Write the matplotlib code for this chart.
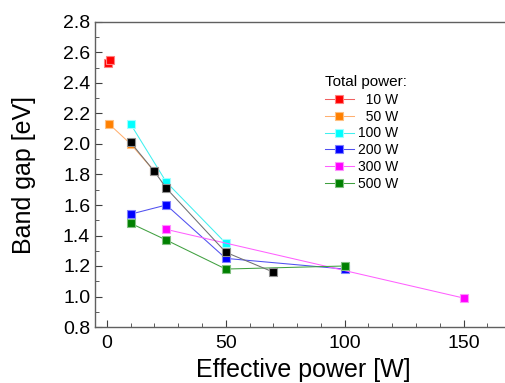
import matplotlib
matplotlib.use("Agg")
from matplotlib import pyplot as plt
from matplotlib.ticker import MultipleLocator

plt.rcParams['font.family'] = ['Liberation Sans', 'DejaVu Sans']

# effective power [W] / band gap [eV] per total power
x_10w = [0.3, 1.2]
y_10w = [2.53, 2.55]

x_50w = [1, 10, 20]
y_50w = [2.13, 2.00, 1.82]

x_100w = [10, 25, 50]
y_100w = [2.13, 1.75, 1.35]

x_200w = [10, 25, 50, 100]
y_200w = [1.54, 1.60, 1.25, 1.18]

x_300w = [25, 150]
y_300w = [1.44, 0.99]

x_500w = [10, 25, 50, 100]
y_500w = [1.48, 1.37, 1.18, 1.20]

x_other = [10, 20, 25, 50, 70]
y_other = [2.01, 1.82, 1.71, 1.29, 1.16]

labels = ["  10 W", "  50 W", "100 W", "200 W", "300 W", "500 W"]

fig = plt.figure(figsize=(5.06, 3.83), dpi=100)
ax = fig.add_axes([95 / 506, 1 - 327 / 383, 1 - 95 / 506 + 0.01, 305 / 383])


def series(x, y, face, edge, line, label=None, z=3):
    ax.plot(x, y, color=line, lw=0.75, marker="s", markersize=6,
            markerfacecolor=face, markeredgecolor=edge, markeredgewidth=0.8,
            label=label, zorder=z)


series(x_50w, y_50w, "#ff8000", "#ffc080", "#ffb070", labels[1])
series(x_other, y_other, "black", "#909090", "#707070", None, z=4)
series(x_10w, y_10w, "red", "#ff8080", "#f06060", labels[0])
series(x_100w, y_100w, "cyan", "#a0ffff", "#40f0f0", labels[2])
series(x_200w, y_200w, "blue", "#8080ff", "#5050f0", labels[3])
series(x_300w, y_300w, "magenta", "#ff90ff", "#ff60ff", labels[4])
series(x_500w, y_500w, "green", "#80c080", "#40a040", labels[5])

handles, labs = ax.get_legend_handles_labels()
order = [labs.index(l) for l in labels]
leg = ax.legend([handles[i] for i in order], [labs[i] for i in order],
                title="Total power:", frameon=False, fontsize=10,
                title_fontsize=11, numpoints=1, handlelength=2.1,
                handletextpad=0.3, labelspacing=0.2, borderpad=0,
                loc="upper left", bbox_to_anchor=(0.535, 0.85))
leg._legend_box.align = "left"
leg._legend_box.sep = 3

ax.set_xlim(-5, 170)
ax.set_ylim(0.8, 2.8)
ax.xaxis.set_major_locator(MultipleLocator(50))
ax.xaxis.set_minor_locator(MultipleLocator(10))
ax.yaxis.set_major_locator(MultipleLocator(0.2))
ax.yaxis.set_minor_locator(MultipleLocator(0.1))
ax.yaxis.set_major_formatter(plt.FormatStrFormatter("%.1f"))
ax.tick_params(which="both", direction="in", labelsize=14, top=False, right=False,
               color="#404040")
ax.tick_params(which="major", length=5)
ax.tick_params(which="minor", length=3)
ax.tick_params(axis="x", pad=6)
for s in ax.spines.values():
    s.set_color("#606060")
    s.set_linewidth(1.0)

ax.set_xlabel("Effective power [W]", fontsize=18, labelpad=4)
ax.set_ylabel("Band gap [eV]", fontsize=18, labelpad=19)

fig.savefig("out.png", dpi=100)
